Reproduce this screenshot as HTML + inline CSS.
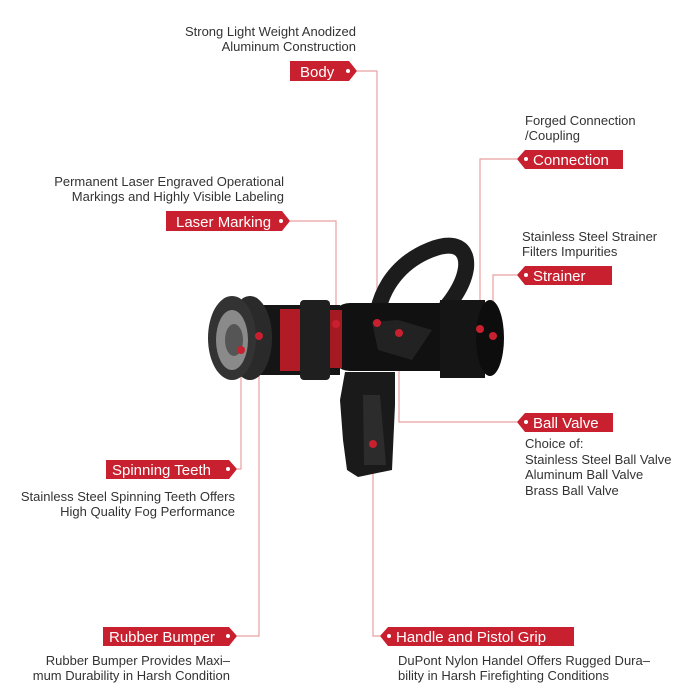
<!DOCTYPE html>
<html><head><meta charset="utf-8"><style>
body{margin:0;background:#fff;width:700px;height:700px;overflow:hidden;font-family:"Liberation Sans",sans-serif}
svg{position:absolute;left:0;top:0}
.t{font-size:13px;fill:#333}
.l{font-size:15px;fill:#fff}
</style></head><body>
<svg width="700" height="700" viewBox="0 0 700 700">
<g stroke="#e8a0a0" stroke-width="1.2" fill="none">
<polyline points="357,71 377,71 377,323"/>
<polyline points="517,159 480,159 480,329"/>
<polyline points="290,221 336,221 336,324"/>
<polyline points="517,275 493,275 493,336"/>
<polyline points="399,333 399,422 517,422"/>
<polyline points="241,350 241,469 237,469"/>
<polyline points="259,336 259,636 237,636"/>
<polyline points="373,444 373,636 380,636"/>
</g>
<!-- nozzle -->
<g>
<path d="M378,310 C385,280 405,260 430,250 C455,240 468,248 466,268 C463,290 445,310 425,330" fill="none" stroke="#1c1c1c" stroke-width="16" stroke-linecap="round"/>
<rect x="330" y="303" width="130" height="68" rx="20" fill="#111"/>
<path d="M440,300 L485,300 L485,378 L440,378 Z" fill="#151515"/>
<ellipse cx="490" cy="338" rx="14" ry="38" fill="#0d0d0d"/>
<rect x="260" y="305" width="80" height="70" fill="#151515"/>
<rect x="280" y="309" width="22" height="62" fill="#b01b25"/>
<rect x="300" y="300" width="30" height="80" rx="4" fill="#1f1f1f"/>
<rect x="330" y="310" width="12" height="58" fill="#a51a22"/>
<ellipse cx="250" cy="338" rx="22" ry="42" fill="#2a2a2a"/>
<ellipse cx="232" cy="338" rx="24" ry="42" fill="#333"/>
<ellipse cx="232" cy="340" rx="16" ry="30" fill="#8a8a8a"/>
<ellipse cx="234" cy="340" rx="9" ry="16" fill="#555"/>
<path d="M372,322 L398,320 L432,330 L412,360 L378,350 Z" fill="#222"/>
<path d="M345,372 L395,372 L395,405 L392,470 L358,477 L347,470 L343,440 L340,400 Z" fill="#1a1a1a"/>
<path d="M363,395 L380,395 L386,465 L364,465 Z" fill="#2c2c2c"/>
</g>
<g fill="#c8202f">
<circle cx="377" cy="323" r="4"/><circle cx="480" cy="329" r="4"/><circle cx="336" cy="324" r="4"/>
<circle cx="493" cy="336" r="4"/><circle cx="399" cy="333" r="4"/><circle cx="241" cy="350" r="4"/>
<circle cx="259" cy="336" r="4"/><circle cx="373" cy="444" r="4"/>
<path d="M290,61 H349 L357,71 L349,81 H290 Z"/>
<path d="M166,211 H282 L290,221 L282,231 H166 Z"/>
<path d="M106,460 H229 L237,469 L229,479 H106 Z"/>
<path d="M103,627 H229 L237,636 L229,646 H103 Z"/>
<path d="M525,150 H623 V169 H525 L517,159 Z"/>
<path d="M525,266 H612 V285 H525 L517,275 Z"/>
<path d="M525,413 H613 V432 H525 L517,422 Z"/>
<path d="M388,627 H574 V646 H388 L380,636 Z"/>
</g>
<g fill="#fff">
<circle cx="348" cy="71" r="2"/><circle cx="281" cy="221" r="2"/><circle cx="228" cy="469" r="2"/><circle cx="228" cy="636" r="2"/>
<circle cx="526" cy="159" r="2"/><circle cx="526" cy="275" r="2"/><circle cx="526" cy="422" r="2"/><circle cx="389" cy="636" r="2"/>
</g>
<text class="l" x="300" y="77">Body</text>
<text class="l" x="176" y="227">Laser Marking</text>
<text class="l" x="112" y="475">Spinning Teeth</text>
<text class="l" x="109" y="642">Rubber Bumper</text>
<text class="l" x="533" y="165">Connection</text>
<text class="l" x="533" y="281">Strainer</text>
<text class="l" x="533" y="428">Ball Valve</text>
<text class="l" x="396" y="642">Handle and Pistol Grip</text>
<g class="t">
<text x="356" y="36" text-anchor="end">Strong Light Weight Anodized</text>
<text x="356" y="51" text-anchor="end">Aluminum Construction</text>
<text x="284" y="186" text-anchor="end">Permanent Laser Engraved Operational</text>
<text x="284" y="201" text-anchor="end">Markings and Highly Visible Labeling</text>
<text x="235" y="501" text-anchor="end">Stainless Steel Spinning Teeth Offers</text>
<text x="235" y="516" text-anchor="end">High Quality Fog Performance</text>
<text x="230" y="665" text-anchor="end">Rubber Bumper Provides Maxi–</text>
<text x="230" y="680" text-anchor="end">mum Durability in Harsh Condition</text>
<text x="525" y="125">Forged Connection</text>
<text x="525" y="140">/Coupling</text>
<text x="522" y="241">Stainless Steel Strainer</text>
<text x="522" y="256">Filters Impurities</text>
<text x="525" y="448">Choice of:</text>
<text x="525" y="464">Stainless Steel Ball Valve</text>
<text x="525" y="479">Aluminum Ball Valve</text>
<text x="525" y="495">Brass Ball Valve</text>
<text x="398" y="665">DuPont Nylon Handel Offers Rugged Dura–</text>
<text x="398" y="680">bility in Harsh Firefighting Conditions</text>
</g>
</svg>
</body></html>
